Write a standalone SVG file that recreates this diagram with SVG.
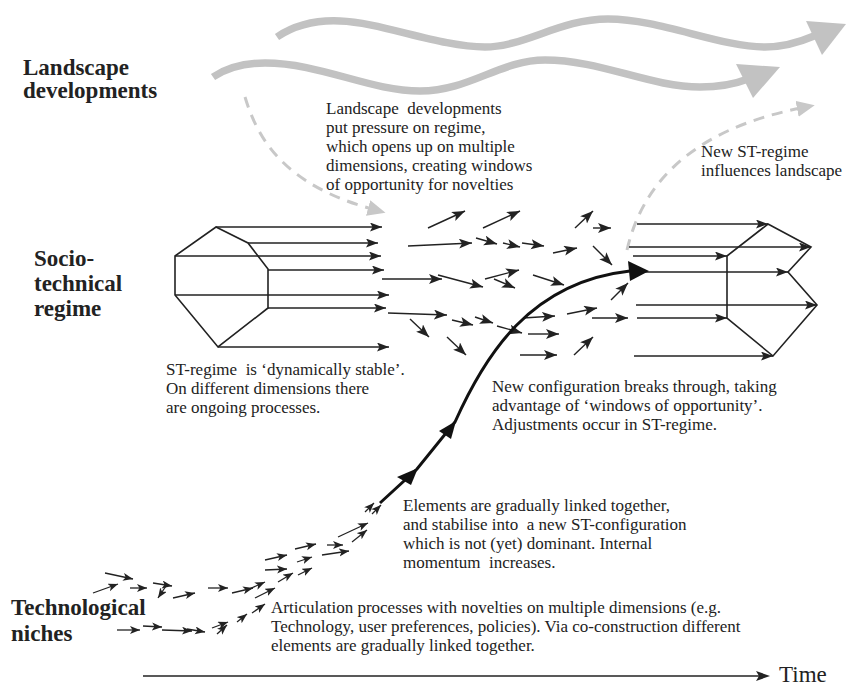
<svg xmlns="http://www.w3.org/2000/svg" width="846" height="687" viewBox="0 0 846 687">
<defs>
<style>
.lbl{font-family:"Liberation Serif","Times New Roman",serif;font-weight:bold;font-size:23px;fill:#222}
.txt{font-family:"Liberation Serif","Times New Roman",serif;font-size:17px;fill:#222}
.time{font-family:"Liberation Serif","Times New Roman",serif;font-size:23px;fill:#222}
.ln{stroke:#222;stroke-width:1.6;fill:none;marker-end:url(#ah)}
.sa{stroke:#222;stroke-width:1.4;fill:none;marker-end:url(#ahm)}
.na{stroke:#222;stroke-width:1.3;fill:none;marker-end:url(#ahs)}
.poly{stroke:#222;stroke-width:1.6;fill:none}
.wave{stroke:#c2c2c2;stroke-width:7.5;fill:none;stroke-linecap:butt}
.dash{stroke:#c8c8c8;stroke-width:3;fill:none;stroke-dasharray:11 8;marker-end:url(#gah)}
</style>
<marker id="ah" markerUnits="userSpaceOnUse" markerWidth="13" markerHeight="10" refX="12" refY="4.5" orient="auto">
<path d="M0,0 L12,4.5 L0,9 L2.5,4.5 z" fill="#222"/>
</marker>
<marker id="ahm" markerUnits="userSpaceOnUse" markerWidth="14" markerHeight="12" refX="13" refY="5" orient="auto">
<path d="M0,0 L13,5 L0,10 L3,5 z" fill="#222"/>
</marker>
<marker id="ahs" markerUnits="userSpaceOnUse" markerWidth="12" markerHeight="10" refX="10" refY="4" orient="auto">
<path d="M0,0 L10,4 L0,8 L2.5,4 z" fill="#222"/>
</marker>
<marker id="gah" markerUnits="userSpaceOnUse" markerWidth="20" markerHeight="18" refX="4" refY="8" orient="auto">
<path d="M0,0 L18,8 L0,16 z" fill="#c8c8c8"/>
</marker>
</defs>
<rect width="846" height="687" fill="#fff"/>

<g id="landscape-label"><text class="lbl" x="23" y="75">Landscape</text><text class="lbl" x="23" y="98">developments</text></g>
<g id="regime-label"><text class="lbl" x="34" y="266">Socio-</text><text class="lbl" x="34" y="291">technical</text><text class="lbl" x="34" y="316">regime</text></g>
<g id="niches-label"><text class="lbl" x="11" y="615">Technological</text><text class="lbl" x="11" y="641">niches</text></g>

<g id="landscape-waves">
<path class="wave" d="M277,37 C295,25 318,20 340,21 C380,22 440,47 485,47 C525,47 560,19 608,19 C660,19 720,47 765,47 C785,47 800,42 814,36"/>
<polygon points="806,21 846,24 822,55" fill="#c2c2c2"/>
<path class="wave" d="M213,77 C228,67 245,63 265,63 C320,63 370,91 420,91 C470,91 500,60 545,60 C600,60 650,87 700,87 C720,87 735,84 748,79"/>
<polygon points="736,64 780,67 753,98" fill="#c2c2c2"/>
</g>

<g id="old-regime">
<polygon class="poly" points="216,227 248,243 268,269 268,308 218,347 175,295 175,256"/>
</g>
<g id="new-regime">
<polygon class="poly" points="768,224 811,247 788,272 817,305 773,356 727,318 727,256"/>
</g>

<g id="connectors">
<path class="dash" d="M245,97 C258,140 285,185 372,209"/>
<path class="dash" d="M627,250 C642,185 690,130 801,108"/>

<line class="ln" x1="216" y1="227" x2="382" y2="227"/>
<line class="ln" x1="248" y1="243" x2="378" y2="243"/>
<line class="ln" x1="175" y1="256" x2="381" y2="256"/>
<line class="ln" x1="268" y1="270" x2="384" y2="270"/>
<line class="ln" x1="175" y1="295" x2="389" y2="295"/>
<line class="ln" x1="268" y1="308" x2="386" y2="308"/>
<line class="ln" x1="218" y1="347" x2="389" y2="347"/>

<line class="ln" x1="637" y1="224" x2="768" y2="224"/>
<line class="ln" x1="629" y1="247" x2="811" y2="247"/>
<line class="ln" x1="633" y1="256" x2="727" y2="256"/>
<line class="ln" x1="645" y1="272" x2="788" y2="272"/>
<line class="ln" x1="636" y1="305" x2="817" y2="305"/>
<line class="ln" x1="637" y1="318" x2="727" y2="318"/>
<line class="ln" x1="634" y1="356" x2="773" y2="356"/>

<line class="sa" x1="428" y1="228" x2="465" y2="211"/>
<line class="sa" x1="483" y1="228" x2="520" y2="211"/>
<line class="sa" x1="575" y1="228" x2="593" y2="211"/>
<line class="sa" x1="593" y1="228" x2="611" y2="228"/>
<line class="sa" x1="408" y1="246" x2="472" y2="243"/>
<line class="sa" x1="476" y1="238" x2="497" y2="244"/>
<line class="sa" x1="503" y1="243" x2="520" y2="247"/>
<line class="sa" x1="522" y1="243" x2="544" y2="246"/>
<line class="sa" x1="553" y1="253" x2="577" y2="248"/>
<line class="sa" x1="593" y1="246" x2="612" y2="265"/>
<line class="sa" x1="382" y1="279" x2="442" y2="279"/>
<line class="sa" x1="438" y1="275" x2="483" y2="287"/>
<line class="sa" x1="485" y1="279" x2="519" y2="270"/>
<line class="sa" x1="494" y1="279" x2="515" y2="288"/>
<line class="sa" x1="533" y1="275" x2="564" y2="285"/>
<line class="sa" x1="388" y1="313" x2="447" y2="315"/>
<line class="sa" x1="410" y1="319" x2="429" y2="337"/>
<line class="sa" x1="452" y1="320" x2="473" y2="325"/>
<line class="sa" x1="475" y1="317" x2="493" y2="323"/>
<line class="sa" x1="497" y1="326" x2="522" y2="333"/>
<line class="sa" x1="447" y1="337" x2="466" y2="355"/>
<line class="sa" x1="523" y1="318" x2="555" y2="316"/>
<line class="sa" x1="528" y1="334" x2="559" y2="334"/>
<line class="sa" x1="567" y1="314" x2="597" y2="308"/>
<line class="sa" x1="592" y1="318" x2="628" y2="318"/>
<line class="sa" x1="520" y1="355" x2="557" y2="355"/>
<line class="sa" x1="574" y1="355" x2="593" y2="337"/>
<line class="sa" x1="611" y1="300" x2="628" y2="283"/>

<line class="na" x1="105" y1="573" x2="133" y2="579"/>
<line class="na" x1="93" y1="593" x2="118" y2="584"/>
<line class="na" x1="130" y1="588" x2="147" y2="588"/>
<line class="na" x1="153" y1="583" x2="172" y2="586"/>
<line class="na" x1="166" y1="586" x2="158" y2="598"/>
<line class="na" x1="173" y1="598" x2="195" y2="593"/>
<line class="na" x1="208" y1="588" x2="228" y2="588"/>
<line class="na" x1="232" y1="593" x2="253" y2="588"/>
<line class="na" x1="247" y1="590" x2="265" y2="582"/>
<line class="na" x1="255" y1="598" x2="275" y2="588"/>
<line class="na" x1="265" y1="560" x2="287" y2="555"/>
<line class="na" x1="265" y1="570" x2="287" y2="569"/>
<line class="na" x1="278" y1="582" x2="293" y2="573"/>
<line class="na" x1="295" y1="549" x2="316" y2="544"/>
<line class="na" x1="297" y1="562" x2="312" y2="557"/>
<line class="na" x1="298" y1="575" x2="312" y2="568"/>
<line class="na" x1="327" y1="545" x2="343" y2="545"/>
<line class="na" x1="322" y1="555" x2="349" y2="551"/>
<line class="na" x1="338" y1="537" x2="368" y2="523"/>
<line class="na" x1="352" y1="542" x2="367" y2="530"/>
<line class="na" x1="365" y1="512" x2="374" y2="503"/>
<line class="na" x1="372" y1="514" x2="381" y2="505"/>

<line class="na" x1="117" y1="630" x2="140" y2="630"/>
<line class="na" x1="143" y1="626" x2="162" y2="627"/>
<line class="na" x1="162" y1="630" x2="192" y2="631"/>
<line class="na" x1="187" y1="629" x2="205" y2="632"/>
<line class="na" x1="212" y1="628" x2="228" y2="622"/>
<line class="na" x1="217" y1="634" x2="227" y2="625"/>
<line class="na" x1="237" y1="622" x2="247" y2="614"/>
<line class="na" x1="252" y1="613" x2="265" y2="604"/>

<path d="M380,503 L417,469 L455,422 C485,355 530,282 630,271" stroke="#111" stroke-width="3" fill="none"/>
<polygon points="418,468 397,477 411,485" fill="#111"/>
<polygon points="456,421 439,431 451,439" fill="#111"/>
<polygon points="649,271 628,261 630,281" fill="#111"/>

<line x1="143" y1="676" x2="762" y2="676" stroke="#222" stroke-width="1.4"/>
<polygon points="770,676 756,671 759,676 756,681" fill="#222"/>
</g>

<g id="text-landscape"><text class="txt" xml:space="preserve"><tspan x="326" y="114">Landscape  developments</tspan><tspan x="326" y="133">put pressure on regime,</tspan><tspan x="326" y="152">which opens up on multiple</tspan><tspan x="326" y="171">dimensions, creating windows</tspan><tspan x="326" y="190">of opportunity for novelties</tspan></text></g>
<g id="text-new-regime"><text class="txt"><tspan x="701" y="157">New ST-regime</tspan><tspan x="701" y="176">influences landscape</tspan></text></g>
<g id="text-st-regime"><text class="txt" xml:space="preserve"><tspan x="166" y="375">ST-regime  is ‘dynamically stable’.</tspan><tspan x="166" y="394">On different dimensions there</tspan><tspan x="166" y="413">are ongoing processes.</tspan></text></g>
<g id="text-breakthrough"><text class="txt"><tspan x="492" y="392">New configuration breaks through, taking</tspan><tspan x="492" y="411">advantage of ‘windows of opportunity’.</tspan><tspan x="492" y="430">Adjustments occur in ST-regime.</tspan></text></g>
<g id="text-elements"><text class="txt" xml:space="preserve"><tspan x="403" y="511">Elements are gradually linked together,</tspan><tspan x="403" y="530">and stabilise into  a new ST-configuration</tspan><tspan x="403" y="549">which is not (yet) dominant. Internal</tspan><tspan x="403" y="568">momentum  increases.</tspan></text></g>
<g id="text-articulation"><text class="txt"><tspan x="271" y="613">Articulation processes with novelties on multiple dimensions (e.g.</tspan><tspan x="271" y="632">Technology, user preferences, policies). Via co-construction different</tspan><tspan x="271" y="651">elements are gradually linked together.</tspan></text></g>
<g id="time-label"><text class="time" x="779" y="682">Time</text></g>
</svg>
